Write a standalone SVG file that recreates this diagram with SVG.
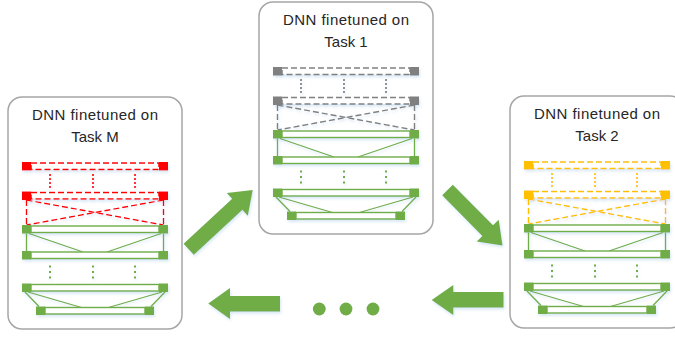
<svg xmlns="http://www.w3.org/2000/svg" xmlns:xlink="http://www.w3.org/1999/xlink" width="675" height="337" viewBox="0 0 675 337">
<style>
.box{fill:#fff;stroke:#a6a6a6;stroke-width:1.5}
.lbl{font-family:"Liberation Sans",Arial,sans-serif;font-size:15px;fill:#262626;text-anchor:middle}
.gsq{fill:#70ad47}
.gbar{fill:#fff;stroke:#70ad47;stroke-width:1.4}
.gln{stroke:#70ad47;stroke-width:1.3;fill:none}
.gdot{stroke:#70ad47;stroke-width:2;stroke-dasharray:2 3.5;fill:none}
.tsq{fill:currentColor}
.tbar{fill:#fff;stroke:currentColor;stroke-width:1.5;stroke-dasharray:6 3}
.tln{stroke:currentColor;stroke-width:1.4;stroke-dasharray:6 3;fill:none}
.tdot{stroke:currentColor;stroke-width:1.7;stroke-dasharray:2 2;fill:none}
.arrow{fill:#70ad47}
.sh{filter:url(#glow)}
</style>
<defs>
<filter id="glow" x="-20%" y="-20%" width="140%" height="160%">
<feDropShadow dx="1" dy="2" stdDeviation="1.5" flood-color="#9dc3e6" flood-opacity="0.4"/>
</filter>
<g id="topStack">
<rect class="tbar" x="-64" y="66" width="128" height="6.5"/>
<rect class="tsq" x="-73" y="65" width="9" height="8.5"/>
<rect class="tsq" x="64" y="65" width="9" height="8.5"/>
<line class="tdot" x1="-45" y1="77" x2="-45" y2="91"/>
<line class="tdot" x1="-2" y1="77" x2="-2" y2="91"/>
<line class="tdot" x1="40" y1="77" x2="40" y2="91"/>
<rect class="tbar" x="-64" y="95.5" width="128" height="6.5"/>
<rect class="tsq" x="-73" y="94.5" width="9" height="8.5"/>
<rect class="tsq" x="64" y="94.5" width="9" height="8.5"/>
<line class="tln" x1="-68.5" y1="103" x2="-68.5" y2="128"/>
<line class="tln" x1="68.5" y1="103" x2="68.5" y2="128"/>
<line class="tln" x1="-68.5" y1="103" x2="68.5" y2="128"/>
<line class="tln" x1="68.5" y1="103" x2="-68.5" y2="128"/>
</g>
<g id="greenStack">
<line class="gln" x1="-68.5" y1="136.5" x2="-68.5" y2="154"/>
<line class="gln" x1="68.5" y1="136.5" x2="68.5" y2="154"/>
<line class="gln" x1="-66" y1="136.5" x2="-12" y2="155"/>
<line class="gln" x1="66" y1="136.5" x2="12" y2="155"/>
<line class="gln" x1="-70" y1="195" x2="-56" y2="209.5"/>
<line class="gln" x1="-67" y1="195" x2="-13.5" y2="210.5"/>
<line class="gln" x1="67" y1="195" x2="13.5" y2="210.5"/>
<line class="gln" x1="70" y1="195" x2="56" y2="209.5"/>
<rect class="gbar" x="-64" y="129" width="128" height="6.5"/>
<rect class="gsq" x="-73" y="128" width="9" height="8.5"/>
<rect class="gsq" x="64" y="128" width="9" height="8.5"/>
<rect class="gbar" x="-64" y="155" width="128" height="6.5"/>
<rect class="gsq" x="-73" y="154" width="9" height="8.5"/>
<rect class="gsq" x="64" y="154" width="9" height="8.5"/>
<line class="gdot" x1="-45" y1="168.5" x2="-45" y2="182"/>
<line class="gdot" x1="-2" y1="168.5" x2="-2" y2="182"/>
<line class="gdot" x1="40" y1="168.5" x2="40" y2="182"/>
<rect class="gbar" x="-64" y="187.5" width="128" height="6.5"/>
<rect class="gsq" x="-73" y="186.5" width="9" height="8.5"/>
<rect class="gsq" x="64" y="186.5" width="9" height="8.5"/>
<rect class="gbar" x="-50" y="210.5" width="100" height="6.5"/>
<rect class="gsq" x="-59" y="209.5" width="9" height="8.5"/>
<rect class="gsq" x="50" y="209.5" width="9" height="8.5"/>
</g>
</defs>

<g id="node-task-m" transform="translate(95,97)">
<rect class="box" x="-87" y="0" width="174" height="232" rx="14"/>
<text class="lbl" x="0" y="23" textLength="126" lengthAdjust="spacing">DNN finetuned on</text>
<text class="lbl" x="0" y="45">Task M</text>
<g class="sh">
<use xlink:href="#topStack" style="color:#ff0000"/>
<use xlink:href="#greenStack"/>
</g>
</g>

<g id="node-task-1" transform="translate(346,2)">
<rect class="box" x="-87" y="0" width="174" height="232" rx="14"/>
<text class="lbl" x="0" y="23" textLength="126" lengthAdjust="spacing">DNN finetuned on</text>
<text class="lbl" x="0" y="45">Task 1</text>
<g class="sh">
<use xlink:href="#topStack" style="color:#808080"/>
<use xlink:href="#greenStack"/>
</g>
</g>

<g id="node-task-2" transform="translate(597,96)">
<rect class="box" x="-87" y="0" width="174" height="232" rx="14"/>
<text class="lbl" x="0" y="23" textLength="126" lengthAdjust="spacing">DNN finetuned on</text>
<text class="lbl" x="0" y="45">Task 2</text>
<g class="sh">
<use xlink:href="#topStack" style="color:#ffc000"/>
<use xlink:href="#greenStack"/>
</g>
</g>

<g id="connectors" class="sh">
<polygon class="arrow" points="183.6,243.7 232.2,198.8 226.8,192.9 252.7,190 247.8,215.7 242.4,209.8 193.8,254.7"/>
<polygon class="arrow" points="452.8,184.7 493,225.3 498.7,219.7 502.5,245.5 476.7,241.5 482.4,235.9 442.2,195.3"/>
<polygon class="arrow" points="503.5,292 453.3,292 453.3,285 431.7,300 453.3,315 453.3,307.5 503.5,307.5"/>
<polygon class="arrow" points="280,296 230,296 230,288 208.3,303.5 230,319 230,311.5 280,311.5"/>
</g>

<g id="ellipsis">
<circle class="arrow" cx="319.3" cy="309" r="6.4"/>
<circle class="arrow" cx="346" cy="309" r="6.4"/>
<circle class="arrow" cx="373" cy="309" r="6.4"/>
</g>
</svg>
